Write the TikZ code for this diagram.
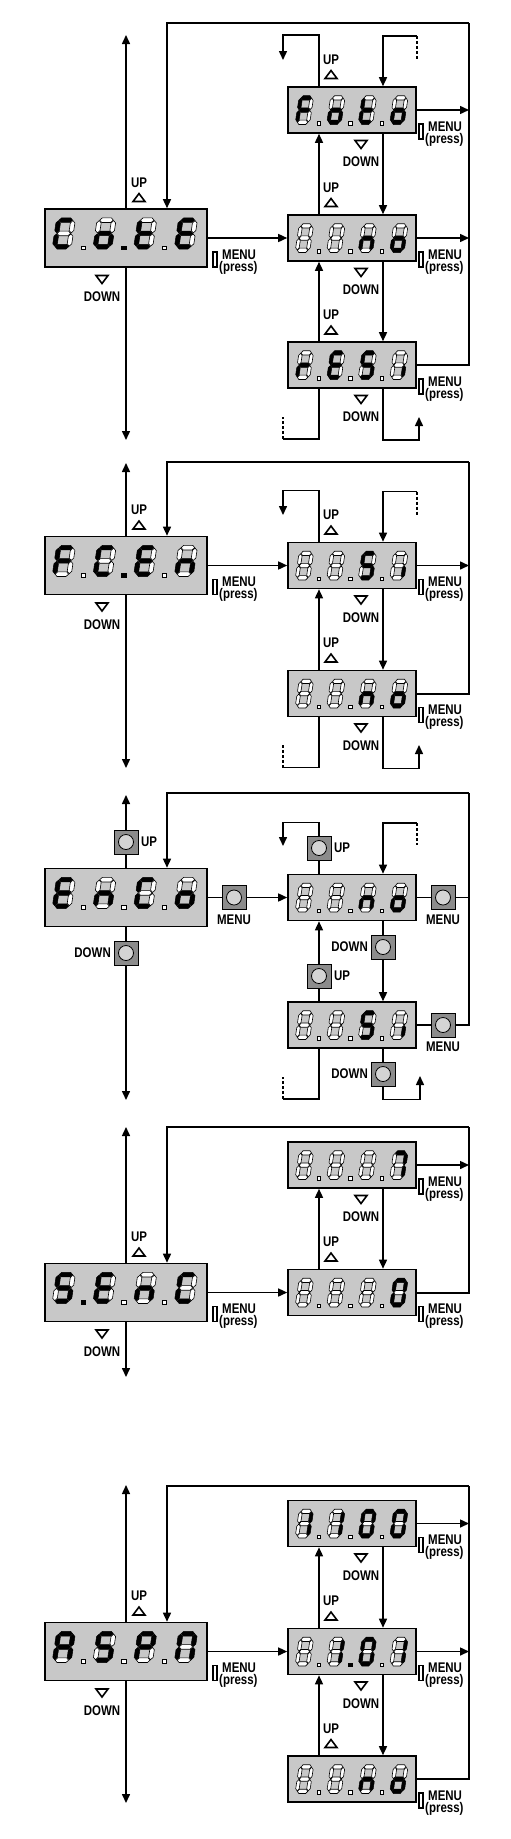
\documentclass[tikz,border=0pt]{standalone}
\usepackage{fontspec}
\newfontfamily\labfont[FakeStretch=0.82]{Liberation Sans}
\usetikzlibrary{arrows.meta}
\definecolor{dispgray}{RGB}{200,200,200}
\definecolor{btngray}{RGB}{140,140,140}
\definecolor{btnlight}{RGB}{212,212,212}
\tikzset{
 conn/.style={line width=1.5pt},
 rconn/.style={line width=2pt},
 arr/.style={conn,-{Triangle[length=9pt,width=8pt]}},
 bigbox/.style={draw,line width=1.6pt,fill=dispgray,minimum width=162pt,minimum height=58pt,inner sep=0pt},
 smallbox/.style={draw,line width=1.6pt,fill=dispgray,minimum width=128pt,minimum height=46pt,inner sep=0pt},
 lbl/.style={font=\labfont\bfseries\fontsize{14}{14}\selectfont,inner sep=0pt},
 tri/.style={line width=1.6pt,line join=miter},
 icon/.style={line width=1.3pt},
 lit/.style={fill=black,draw=black,line width=0.5pt},
 unlit/.style={fill=white,draw=black,line width=0.6pt},
 btn/.style={draw,line width=1pt,fill=btngray,minimum size=24pt,inner sep=0pt,
   path picture={\draw[line width=0.8pt,fill=btnlight] (path picture bounding box.center) circle (7.5pt);}},
 dashline/.style={line width=1.5pt,dash pattern=on 3pt off 2pt},
}
% segment letters (abcdefg)
\expandafter\def\csname dg-\endcsname{0000000}
\def\dgC{1001110}\def\dgo{0011101}\def\dgt{0001111}\def\dgE{1001111}
\def\dgF{1000111}\def\dgn{0010101}\def\dgr{0000101}\def\dgS{1011011}
\def\dgi{0010000}\expandafter\def\csname dg7\endcsname{1110000}
\expandafter\def\csname dg0\endcsname{1111110}\expandafter\def\csname dg1\endcsname{0110000}
\def\dgA{1110111}\def\dgP{1100111}\def\dgQ{1110110}
\newcommand\hseg[2]{\path[#1] (1.45,#2)--(2.65,#2+1.2)--(7.35,#2+1.2)--(8.55,#2)--(7.35,#2-1.2)--(2.65,#2-1.2)--cycle;}
\newcommand\vseg[4]{\path[#1] (#2,#3+0.25)--(#2+1.2,#3+1.45)--(#2+1.2,#4-1.45)--(#2,#4-0.25)--(#2-1.2,#4-1.45)--(#2-1.2,#3+1.45)--cycle;}
\def\ldsegs#1#2#3#4#5#6#7\relax{%
 \ifnum#1=1 \hseg{lit}{14.8}\else\hseg{unlit}{14.8}\fi
 \ifnum#2=1 \vseg{lit}{8.8}{8}{14.8}\else\vseg{unlit}{8.8}{8}{14.8}\fi
 \ifnum#3=1 \vseg{lit}{8.8}{1.2}{8}\else\vseg{unlit}{8.8}{1.2}{8}\fi
 \ifnum#4=1 \hseg{lit}{1.2}\else\hseg{unlit}{1.2}\fi
 \ifnum#5=1 \vseg{lit}{1.2}{1.2}{8}\else\vseg{unlit}{1.2}{1.2}{8}\fi
 \ifnum#6=1 \vseg{lit}{1.2}{8}{14.8}\else\vseg{unlit}{1.2}{8}{14.8}\fi
 \ifnum#7=1 \hseg{lit}{8}\else\hseg{unlit}{8}\fi}
\newcommand\ld[7]{%
 \begin{scope}[shift={(#1pt,-#2pt)},x={(#3pt,0pt)},y={(0.15*#4pt,#4pt)}]
 \expandafter\expandafter\expandafter\ldsegs\csname dg#5\endcsname\relax
 \ifnum#6=1 \path[lit] (#7-1,-0.2) rectangle (#7+1,1.6);\fi
 \ifnum#6=0 \path[unlit] (#7-1,-0.2) rectangle (#7+1,1.6);\fi
 \end{scope}}
\newcommand\bigdigits[8]{\pgfmathsetmacro\bb{#1+11}%
 \ld{52}{\bb}{1.9}{1.95}{#2}{#3}{16.3}%
 \ld{92.7}{\bb}{1.9}{1.95}{#4}{#5}{16.3}%
 \ld{133.4}{\bb}{1.9}{1.95}{#6}{#7}{16.3}%
 \ld{174.1}{\bb}{1.9}{1.95}{#8}{2}{16.3}}
\newcommand\smalldigits[8]{\pgfmathsetmacro\bb{#1+14.5}%
 \ld{295}{\bb}{1.45}{1.8}{#2}{#3}{16.2}%
 \ld{326.5}{\bb}{1.45}{1.8}{#4}{#5}{16.2}%
 \ld{358}{\bb}{1.45}{1.8}{#6}{#7}{16.2}%
 \ld{389.5}{\bb}{1.45}{1.8}{#8}{2}{16.2}}
\newcommand\uplab[3]{%
 \node[lbl,anchor=base] (#1) at (#2,#3) {UP};
 \draw[tri] (#2-6,#3+14.5) -- (#2+6,#3+14.5) -- (#2,#3+6.5) -- cycle;}
\newcommand\downlab[3]{%
 \draw[tri] (#2-6,#3) -- (#2+6,#3) -- (#2,#3+8) -- cycle;
 \node[lbl,anchor=base] (#1) at (#2,#3+26) {DOWN};}
\newcommand\menulab[3]{%
 \draw[icon] (#2,#3+14) rectangle (#2+4,#3+29);
 \node[lbl,anchor=base west] (#1) at (#2+9,#3+21) {MENU};
 \node[lbl,anchor=base west] (#1p) at (#2+6,#3+33) {(press)};}

\begin{document}
\begin{tikzpicture}[x=1pt,y=-1pt]
\fill[white] (0,0) rectangle (511,1839);
\useasboundingbox (0,0) rectangle (511,1839);

% ================= Panel 1 =================
\node[bigbox] (d1) at (126,238) {};
\bigdigits{238}{C}{0}{o}{1}{t}{0}{E}
\node[smallbox] (o1a) at (352,110) {};
\smalldigits{110}{F}{0}{o}{0}{t}{0}{o}
\node[smallbox] (o1b) at (352,238) {};
\smalldigits{238}{-}{0}{-}{0}{n}{0}{o}
\node[smallbox] (o1c) at (352,365) {};
\smalldigits{365}{r}{0}{E}{0}{S}{0}{i}
\coordinate (t1) at (126,35); \coordinate (b1) at (126,440); \coordinate (r1) at (469,23);
\draw[arr] (d1.north) -- (t1);
\draw[arr] (d1.south) -- (b1);
\draw[arr] (r1) -| ([xshift=41pt]d1.north);
\draw[rconn] (o1c.east) -| (r1);
\draw[arr] (o1a.east) -- (o1a.east -| r1);
\draw[arr] (o1b.east) -- (o1b.east -| r1);
\draw[arr] (d1.east) -- (o1b.west);
\draw[arr] ([xshift=-33pt]o1b.north) -- ([xshift=-33pt]o1a.south);
\draw[arr] ([xshift=-33pt]o1c.north) -- ([xshift=-33pt]o1b.south);
\draw[arr] ([xshift=31pt]o1a.south) -- ([xshift=31pt]o1b.north);
\draw[arr] ([xshift=31pt]o1b.south) -- ([xshift=31pt]o1c.north);
\coordinate (s1a) at (283,60); \coordinate (s1b) at (417,60); \coordinate (s1c) at (417,36);
\draw[arr] ([xshift=-33pt]o1a.north) -- ++(0,-51) -| (s1a);
\draw[dashline] (s1c) -- (s1b);
\draw[arr] (s1c) -| ([xshift=31pt]o1a.north);
\coordinate (s1d) at (283,417); \coordinate (s1e) at (283,439); \coordinate (s1f) at (419,417);
\draw[conn] ([xshift=-33pt]o1c.south) |- (s1e);
\draw[dashline] (s1e) -- (s1d);
\draw[arr] ([xshift=31pt]o1c.south) -- ++(0,51) -| (s1f);
\uplab{u1}{139}{187} \downlab{w1}{102}{275.5}
\menulab{m1}{213}{238}
\uplab{u1a}{331}{64} \downlab{w1a}{361}{140.5}
\uplab{u1b}{331}{192} \downlab{w1b}{361}{268.5}
\uplab{u1c}{331}{319.5} \downlab{w1c}{361}{395.5}
\menulab{m1a}{419}{110} \menulab{m1b}{419}{238} \menulab{m1c}{419}{365}

% ================= Panel 2 =================
\node[bigbox] (d2) at (126,565.5) {};
\bigdigits{565.5}{F}{0}{C}{1}{E}{0}{n}
\node[smallbox] (o2a) at (352,565.5) {};
\smalldigits{565.5}{-}{0}{-}{0}{S}{0}{i}
\node[smallbox] (o2b) at (352,693.5) {};
\smalldigits{693.5}{-}{0}{-}{0}{n}{0}{o}
\coordinate (t2) at (126,463); \coordinate (b2) at (126,768); \coordinate (r2) at (469,462);
\draw[arr] (d2.north) -- (t2);
\draw[arr] (d2.south) -- (b2);
\draw[arr] (r2) -| ([xshift=41pt]d2.north);
\draw[rconn] (o2b.east) -| (r2);
\draw[arr] (o2a.east) -- (o2a.east -| r2);
\draw[arr] (d2.east) -- (o2a.west);
\draw[arr] ([xshift=-33pt]o2b.north) -- ([xshift=-33pt]o2a.south);
\draw[arr] ([xshift=31pt]o2a.south) -- ([xshift=31pt]o2b.north);
\coordinate (s2a) at (283,515); \coordinate (s2b) at (417,515); \coordinate (s2c) at (417,491.5);
\draw[arr] ([xshift=-33pt]o2a.north) -- ++(0,-51) -| (s2a);
\draw[dashline] (s2c) -- (s2b);
\draw[arr] (s2c) -| ([xshift=31pt]o2a.north);
\coordinate (s2d) at (283,745); \coordinate (s2e) at (283,767.5); \coordinate (s2f) at (419,745);
\draw[conn] ([xshift=-33pt]o2b.south) |- (s2e);
\draw[dashline] (s2e) -- (s2d);
\draw[arr] ([xshift=31pt]o2b.south) -- ++(0,51) -| (s2f);
\uplab{u2}{139}{514.5} \downlab{w2}{102}{603}
\menulab{m2}{213}{565.5}
\uplab{u2a}{331}{519.5} \downlab{w2a}{361}{596}
\uplab{u2b}{331}{647.5} \downlab{w2b}{361}{724}
\menulab{m2a}{419}{565.5} \menulab{m2b}{419}{693.5}

% ================= Panel 3 =================
\node[bigbox] (d3) at (126,897.5) {};
\bigdigits{897.5}{E}{0}{n}{0}{C}{0}{o}
\node[smallbox] (o3a) at (352,897.5) {};
\smalldigits{897.5}{-}{0}{-}{0}{n}{0}{o}
\node[smallbox] (o3b) at (352,1025) {};
\smalldigits{1025}{-}{0}{-}{0}{S}{0}{i}
\node[btn] (bu3) at (126,842) {};
\node[btn] (bd3) at (126,953) {};
\node[btn] (bm3) at (234,897.5) {};
\node[btn] (bu3a) at (319,848) {};
\node[btn] (bd3a) at (383,947) {};
\node[btn] (bu3b) at (319,976) {};
\node[btn] (bm3a) at (443,897.5) {};
\node[btn] (bm3b) at (443,1025) {};
\node[btn] (bd3b) at (383,1074) {};
\coordinate (t3) at (126,795); \coordinate (b3) at (126,1100); \coordinate (r3) at (469,793);
\draw[arr] (bu3.north) -- (t3);
\draw[conn] (d3.north) -- (bu3.south);
\draw[conn] (d3.south) -- (bd3.north);
\draw[arr] (bd3.south) -- (b3);
\draw[conn] (d3.east) -- (bm3.west);
\draw[arr] (bm3.east) -- (o3a.west);
\draw[arr] (r3) -| ([xshift=41pt]d3.north);
\draw[conn] (o3b.east) -- (bm3b.west);
\draw[rconn] (bm3b.east) -| (r3);
\draw[conn] (o3a.east) -- (bm3a.west);
\draw[conn] (bm3a.east) -- (bm3a.east -| r3);
\coordinate (s3a) at (283,846); \coordinate (s3b) at (417,845); \coordinate (s3c) at (417,823);
\draw[conn] ([xshift=-33pt]o3a.north) -- (bu3a.south);
\draw[arr] (bu3a.north) -- ++(0,-13) -| (s3a);
\draw[dashline] (s3c) -- (s3b);
\draw[arr] (s3c) -| ([xshift=31pt]o3a.north);
\draw[conn] ([xshift=31pt]o3a.south) -- (bd3a.north);
\draw[arr] (bd3a.south) -- ([xshift=31pt]o3b.north);
\draw[conn] ([xshift=-33pt]o3b.north) -- (bu3b.south);
\draw[arr] (bu3b.north) -- ([xshift=-33pt]o3a.south);
\coordinate (s3d) at (283,1077); \coordinate (s3e) at (283,1099); \coordinate (s3f) at (420,1076);
\draw[conn] ([xshift=-33pt]o3b.south) |- (s3e);
\draw[dashline] (s3e) -- (s3d);
\draw[conn] ([xshift=31pt]o3b.south) -- (bd3b.north);
\draw[arr] (bd3b.south) -- ++(0,13) -| (s3f);
\node[lbl,anchor=west] (lu3) at ([xshift=2.5pt]bu3.east) {UP};
\node[lbl,anchor=east] (ld3) at ([xshift=-2.5pt]bd3.west) {DOWN};
\node[lbl,anchor=base] (lm3) at ([yshift=-14pt]bm3.south) {MENU};
\node[lbl,anchor=west] (lu3a) at ([xshift=2.5pt]bu3a.east) {UP};
\node[lbl,anchor=east] (ld3a) at ([xshift=-2.5pt]bd3a.west) {DOWN};
\node[lbl,anchor=west] (lu3b) at ([xshift=2.5pt]bu3b.east) {UP};
\node[lbl,anchor=base] (lm3a) at ([yshift=-14pt]bm3a.south) {MENU};
\node[lbl,anchor=base] (lm3b) at ([yshift=-14pt]bm3b.south) {MENU};
\node[lbl,anchor=east] (ld3b) at ([xshift=-2.5pt]bd3b.west) {DOWN};

% ================= Panel 4 =================
\node[bigbox] (d4) at (126,1292.5) {};
\bigdigits{1292.5}{S}{1}{E}{0}{n}{0}{C}
\node[smallbox] (o4a) at (352,1165) {};
\smalldigits{1165}{-}{0}{-}{0}{-}{0}{7}
\node[smallbox] (o4b) at (352,1292.5) {};
\smalldigits{1292.5}{-}{0}{-}{0}{-}{0}{0}
\coordinate (t4) at (126,1127); \coordinate (b4) at (126,1377); \coordinate (r4) at (469,1127);
\draw[arr] (d4.north) -- (t4);
\draw[arr] (d4.south) -- (b4);
\draw[arr] (r4) -| ([xshift=41pt]d4.north);
\draw[rconn] (o4b.east) -| (r4);
\draw[arr] (o4a.east) -- (o4a.east -| r4);
\draw[arr] (d4.east) -- (o4b.west);
\draw[arr] ([xshift=-33pt]o4b.north) -- ([xshift=-33pt]o4a.south);
\draw[arr] ([xshift=31pt]o4a.south) -- ([xshift=31pt]o4b.north);
\uplab{u4}{139}{1241.5} \downlab{w4}{102}{1330}
\menulab{m4}{213}{1292.5}
\downlab{w4a}{361}{1195.5}
\uplab{u4b}{331}{1246.5}
\menulab{m4a}{419}{1165} \menulab{m4b}{419}{1292.5}

% ================= Panel 5 =================
\node[bigbox] (d5) at (126,1651.5) {};
\bigdigits{1651.5}{A}{0}{S}{0}{P}{0}{Q}
\node[smallbox] (o5a) at (352,1523.5) {};
\smalldigits{1523.5}{1}{0}{1}{0}{0}{0}{0}
\node[smallbox] (o5b) at (352,1651.5) {};
\smalldigits{1651.5}{-}{0}{1}{1}{0}{0}{1}
\node[smallbox] (o5c) at (352,1779) {};
\smalldigits{1779}{-}{0}{-}{0}{n}{0}{o}
\coordinate (t5) at (126,1485); \coordinate (b5) at (126,1803); \coordinate (r5) at (469,1486);
\draw[arr] (d5.north) -- (t5);
\draw[arr] (d5.south) -- (b5);
\draw[arr] (r5) -| ([xshift=41pt]d5.north);
\draw[rconn] (o5c.east) -| (r5);
\draw[arr] (o5a.east) -- (o5a.east -| r5);
\draw[arr] (o5b.east) -- (o5b.east -| r5);
\draw[arr] (d5.east) -- (o5b.west);
\draw[arr] ([xshift=-33pt]o5b.north) -- ([xshift=-33pt]o5a.south);
\draw[arr] ([xshift=-33pt]o5c.north) -- ([xshift=-33pt]o5b.south);
\draw[arr] ([xshift=31pt]o5a.south) -- ([xshift=31pt]o5b.north);
\draw[arr] ([xshift=31pt]o5b.south) -- ([xshift=31pt]o5c.north);
\uplab{u5}{139}{1600.5} \downlab{w5}{102}{1689}
\menulab{m5}{213}{1651.5}
\downlab{w5a}{361}{1554}
\uplab{u5b}{331}{1605.5} \downlab{w5b}{361}{1682}
\uplab{u5c}{331}{1733}
\menulab{m5a}{419}{1523.5} \menulab{m5b}{419}{1651.5} \menulab{m5c}{419}{1779}
\end{tikzpicture}
\end{document}
